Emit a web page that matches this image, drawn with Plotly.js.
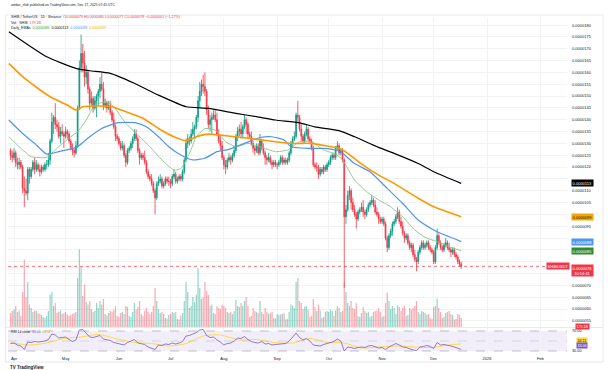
<!DOCTYPE html>
<html><head><meta charset="utf-8">
<script src="https://cdn.plot.ly/plotly-3.0.1.min.js"></script>
<style>html,body{margin:0;padding:0;background:#fff;}#chart{width:613px;height:370px;}</style>
</head><body><div id="chart"></div>
<script>
// Prices are stored in units of 1e-7 USDT (125 = 0.0000125)
const startDate = '2025-03-30';
const openP = [
127,125,
124,126,122,121,122,120,111,110,109,119,116,119,122,119,121,119,118,120,119,121,121,123,131,139,141,138,137,133,135,134,
133,135,134,131,128,127,126,129,145,162,168,164,158,160,153,147,149,145,148,150,152,155,153,146,147,145,146,143,140,137,133,
132,130,128,129,125,122,127,128,130,132,134,132,127,124,125,124,122,118,116,115,113,110,107,113,114,115,112,113,115,114,
114,113,116,117,114,115,116,115,118,123,130,132,131,134,136,137,141,148,152,155,154,152,144,138,140,141,142,140,134,131,129,
124,121,120,123,124,123,125,127,133,135,136,134,137,140,138,134,133,130,128,127,129,126,131,128,126,124,123,124,122,121,122,
121,121,122,124,122,123,122,123,126,130,132,133,142,141,136,133,131,134,136,132,131,128,121,120,120,117,119,118,120,119,
121,122,124,125,124,128,129,126,127,123,99,102,108,110,105,102,100,98,101,102,103,101,100,102,104,105,106,104,101,100,98,
97,98,96,90,86,91,93,96,97,99,101,97,95,92,90,91,88,86,87,83,81,80,84,86,88,86,87,88,86,85,
84,80,86,91,88,86,85,87,88,86,85,84,85,83,82,80,79];
const highP = [
128,127,
128,127,124,124,123,121,116,115,120,120,120,123,124,123,122,121,121,121,122,123,126,132,143,142,147,140,139,137,138,135,
137,136,135,132,130,128,131,146,165,176,172,169,163,161,154,152,150,150,151,153,158,160,156,149,148,148,148,144,143,138,134,
133,131,131,130,126,128,129,131,133,136,136,133,128,126,126,127,123,119,117,117,114,111,114,116,117,116,114,116,116,116,
115,117,119,118,116,117,117,119,124,132,134,133,136,139,138,142,150,156,157,159,160,153,146,142,143,144,144,143,136,133,131,
125,123,124,126,125,126,129,134,137,138,139,138,142,141,139,135,135,131,129,130,130,134,132,130,127,125,126,125,123,123,123,
122,123,125,125,124,124,124,127,131,133,135,143,148,142,138,134,135,138,137,133,132,129,122,122,121,120,120,121,121,122,
123,125,126,126,129,131,130,128,128,124,104,110,112,111,107,104,101,102,103,105,106,102,103,105,106,108,107,106,103,101,99,
99,99,97,91,92,94,97,98,100,103,102,99,97,93,92,92,89,88,88,85,82,85,87,89,89,88,89,89,87,86,
85,87,94,92,89,87,88,90,89,88,86,86,86,84,83,81,80];
const lowP = [
123,122,
123,120,119,119,119,109,103,108,106,113,115,118,117,118,118,116,117,118,118,119,120,121,130,134,136,135,132,130,133,128,
132,132,130,127,125,124,125,128,144,160,160,154,155,151,144,146,143,144,141,146,149,152,144,145,143,144,142,139,136,131,131,
129,127,127,124,120,121,126,127,128,131,131,126,121,123,123,121,117,115,114,112,109,100,106,112,113,111,111,112,113,112,
111,112,115,113,113,114,114,114,117,122,128,129,130,133,132,136,139,145,150,151,150,142,136,135,134,140,139,133,130,127,123,
119,117,119,122,121,122,124,126,131,133,132,132,136,134,132,132,129,126,125,126,125,125,127,125,121,121,122,121,119,120,120,
119,120,121,121,121,121,121,122,125,128,131,132,139,135,131,130,130,133,131,130,127,120,119,118,115,116,117,117,118,118,
120,121,123,123,123,127,125,125,122,69,96,101,106,102,101,99,94,97,100,101,99,98,99,101,103,104,103,100,99,96,96,
96,95,89,84,85,90,91,95,96,98,96,94,91,88,89,87,85,84,82,80,76,79,83,85,85,85,86,85,84,83,
79,79,85,87,85,84,84,86,85,84,82,83,82,81,79,78,77];
const closeP = [
125,124,
126,122,121,122,120,111,110,109,119,116,119,122,119,121,119,118,120,119,121,121,123,131,139,141,138,137,133,135,134,133,
135,134,131,128,127,126,129,145,162,168,164,158,160,153,147,149,145,148,150,152,155,153,146,147,145,146,143,140,137,133,132,
130,128,129,125,122,127,128,130,132,134,132,127,124,125,124,122,118,116,115,113,110,107,113,114,115,112,113,115,114,114,
113,116,117,114,115,116,115,118,123,130,132,131,134,136,137,141,148,152,155,154,152,144,138,140,141,142,140,134,131,129,124,
121,120,123,124,123,125,127,133,135,136,134,137,140,138,134,133,130,128,127,129,126,131,128,126,124,123,124,122,121,122,121,
121,122,124,122,123,122,123,126,130,132,133,142,141,136,133,131,134,136,132,131,128,121,120,120,117,119,118,120,119,121,
122,124,125,124,128,129,126,127,123,99,102,108,110,105,102,100,98,101,102,103,101,100,102,104,105,106,104,101,100,98,97,
98,96,90,86,91,93,96,97,99,101,97,95,92,90,91,88,86,87,83,81,80,84,86,88,86,87,88,86,85,84,
80,86,91,88,86,85,87,88,86,85,84,85,83,82,80,79,78];
// Volume in billions of SHIB
const volumeB = [
280,320,
350,420,300,330,220,700,1350,600,900,450,380,300,330,320,280,260,240,200,180,220,320,650,700,420,480,280,300,330,260,280,
300,250,220,240,260,280,300,980,1550,1200,620,850,500,450,520,360,300,320,480,380,520,450,560,260,230,280,320,300,340,420,220,
200,280,300,260,420,400,220,200,300,480,350,400,520,260,220,330,380,300,260,300,420,780,520,360,280,300,260,180,170,240,
260,300,280,300,160,150,230,280,520,900,700,380,420,600,500,650,1180,780,560,600,900,720,640,420,450,280,260,420,380,360,450,
420,380,300,280,300,260,320,540,420,400,480,420,520,600,420,200,220,380,320,300,280,520,300,260,380,300,260,280,300,180,170,
260,240,250,260,280,150,160,300,450,420,380,900,980,520,480,360,400,420,350,200,220,560,400,320,450,330,180,200,300,320,
300,350,320,220,330,420,380,300,320,890,700,480,420,520,380,360,480,220,200,280,400,320,280,300,200,220,300,320,330,380,300,
200,220,480,690,520,360,420,380,260,430,400,320,380,420,220,240,380,350,380,420,520,300,260,320,300,280,240,260,180,160,
400,420,570,380,300,180,200,280,300,320,260,240,150,160,260,240,179.1];

const ma200Dates = ['2025-03-29','2025-04-20','2025-05-07','2025-05-15','2025-05-27','2025-06-10','2025-06-24','2025-07-10','2025-07-23','2025-08-08','2025-08-20','2025-08-31','2025-09-14','2025-09-23','2025-10-07','2025-10-16','2025-10-30','2025-11-08','2025-11-22','2025-12-01','2025-12-17'];
const ma200Values = [177.2,166.6,161.7,160.7,159.6,155.4,150.4,145.5,144.8,142.7,141.3,139.9,138.7,137.0,135.4,132.8,128.3,125.8,121.5,118.0,113.1];
const ma100Dates = ['2025-03-29','2025-04-06','2025-04-15','2025-04-22','2025-05-02','2025-05-07','2025-05-11','2025-05-20','2025-05-28','2025-06-05','2025-06-15','2025-06-24','2025-07-03','2025-07-10','2025-07-16','2025-07-23','2025-07-30','2025-08-08','2025-08-20','2025-08-31','2025-09-09','2025-09-21','2025-09-30','2025-10-07','2025-10-12','2025-10-21','2025-10-30','2025-11-08','2025-11-22','2025-12-01','2025-12-17'];
const ma100Values = [163.8,158.2,153.2,149.7,146.2,144.1,145.5,145.8,145.5,143.4,140.6,136.3,132.8,131.1,132.8,133.9,133.5,132.8,131.7,130.7,130.0,130.0,128.9,127.9,125.8,120.8,116.6,113.1,106.8,103.2,99.0];
const ma50Dates = ['2025-03-29','2025-04-06','2025-04-13','2025-04-20','2025-04-27','2025-05-05','2025-05-08','2025-05-15','2025-05-22','2025-05-31','2025-06-11','2025-06-17','2025-06-24','2025-06-30','2025-07-07','2025-07-14','2025-07-21','2025-07-28','2025-08-04','2025-08-13','2025-08-22','2025-08-29','2025-09-05','2025-09-09','2025-09-19','2025-09-28','2025-10-05','2025-10-09','2025-10-16','2025-10-25','2025-11-04','2025-11-13','2025-11-22','2025-12-01','2025-12-05','2025-12-17'];
const ma50Values = [139.9,134.2,130.0,125.5,126.5,127.9,128.6,132.8,136.3,138.7,138.7,137.0,132.8,128.6,125.1,123.0,123.7,126.5,127.5,130.0,132.5,132.8,131.4,128.6,127.9,127.9,127.2,125.8,121.5,118.0,111.0,104.6,97.6,93.4,92.0,88.5];
const ma20Dates = ['2025-03-29','2025-04-04','2025-04-11','2025-04-20','2025-04-27','2025-05-04','2025-05-08','2025-05-13','2025-05-18','2025-05-25','2025-05-29','2025-06-05','2025-06-12','2025-06-19','2025-06-26','2025-07-03','2025-07-07','2025-07-12','2025-07-16','2025-07-21','2025-07-27','2025-08-02','2025-08-08','2025-08-15','2025-08-22','2025-08-31','2025-09-07','2025-09-14','2025-09-21','2025-09-28','2025-10-05','2025-10-09','2025-10-16','2025-10-23','2025-10-30','2025-11-06','2025-11-13','2025-11-20','2025-11-26','2025-12-03','2025-12-10','2025-12-17'];
const ma20Values = [132.8,128.6,124.4,124.1,128.6,132.8,134.9,139.9,146.2,147.6,145.5,138.5,133.5,128.6,123.0,118.7,119.4,125.8,132.8,136.3,135.6,130.7,128.6,130.0,128.6,126.5,127.2,130.7,130.7,127.2,125.5,123.0,114.5,109.6,106.1,103.2,99.0,93.4,90.3,88.5,86.3,84.6];

const rsiDates = ['2025-03-30','2025-04-01','2025-04-03','2025-04-05','2025-04-07','2025-04-09','2025-04-11','2025-04-13','2025-04-15','2025-04-17','2025-04-19','2025-04-21','2025-04-23','2025-04-25','2025-04-27','2025-04-29','2025-05-01','2025-05-03','2025-05-05','2025-05-07','2025-05-09','2025-05-11','2025-05-13','2025-05-15','2025-05-17','2025-05-19','2025-05-21','2025-05-23','2025-05-25','2025-05-27','2025-05-29','2025-05-31','2025-06-02','2025-06-04','2025-06-06','2025-06-08','2025-06-10','2025-06-12','2025-06-14','2025-06-16','2025-06-18','2025-06-20','2025-06-22','2025-06-24','2025-06-26','2025-06-28','2025-06-30','2025-07-02','2025-07-04','2025-07-06','2025-07-08','2025-07-10','2025-07-12','2025-07-14','2025-07-16','2025-07-18','2025-07-20','2025-07-22','2025-07-24','2025-07-26','2025-07-28','2025-07-30','2025-08-01','2025-08-03','2025-08-05','2025-08-07','2025-08-09','2025-08-11','2025-08-13','2025-08-15','2025-08-17','2025-08-19','2025-08-21','2025-08-23','2025-08-25','2025-08-27','2025-08-29','2025-08-31','2025-09-02','2025-09-04','2025-09-06','2025-09-08','2025-09-10','2025-09-12','2025-09-14','2025-09-16','2025-09-18','2025-09-20','2025-09-22','2025-09-24','2025-09-26','2025-09-28','2025-09-30','2025-10-02','2025-10-04','2025-10-06','2025-10-08','2025-10-10','2025-10-12','2025-10-14','2025-10-16','2025-10-18','2025-10-20','2025-10-22','2025-10-24','2025-10-26','2025-10-28','2025-10-30','2025-11-01','2025-11-03','2025-11-05','2025-11-07','2025-11-09','2025-11-11','2025-11-13','2025-11-15','2025-11-17','2025-11-19','2025-11-21','2025-11-23','2025-11-25','2025-11-27','2025-11-29','2025-12-01','2025-12-03','2025-12-05','2025-12-07','2025-12-09','2025-12-11','2025-12-13','2025-12-15','2025-12-17'];
const rsiValues = [45,46,42,40,33,48,47,49,48,49,50,53,64,62,56,57,58,53,49,52,72,73,66,58,57,59,61,54,53,51,47,45,44,42,47,50,53,46,45,43,38,36,33,42,41,44,43,46,44,46,49,60,61,64,67,72,73,61,57,58,52,48,42,45,46,50,56,55,59,53,49,47,46,49,44,45,42,43,44,45,45,50,57,66,57,52,55,50,42,41,40,43,45,48,49,54,50,30,38,37,35,37,38,37,40,41,38,36,37,33,38,42,45,42,38,37,34,32,31,38,39,41,39,35,47,42,43,42,40,38,35,33.06];
const rsiMaDates = ['2025-03-30','2025-04-10','2025-04-20','2025-04-30','2025-05-10','2025-05-20','2025-05-30','2025-06-10','2025-06-20','2025-06-30','2025-07-10','2025-07-20','2025-07-30','2025-08-10','2025-08-20','2025-08-30','2025-09-10','2025-09-20','2025-09-30','2025-10-10','2025-10-20','2025-10-30','2025-11-10','2025-11-20','2025-11-30','2025-12-10','2025-12-17'];
const rsiMaValues = [47,42,46,55,58,63,55,47,45,40,45,60,62,52,53,47,46,55,47,46,36,38,40,38,37,42,44.11];

const priceTicks = [55,60,65,70,75,80,85,90,95,100,105,110,115,120,125,130,135,140,145,150,155,160,165,170,175,180];
const monthTicks = ['2025-04-01','2025-05-01','2025-06-01','2025-07-01','2025-08-01','2025-09-01','2025-10-01','2025-11-01','2025-12-01','2026-01-01','2026-02-01'];
const monthLabels = ['Apr','May','Jun','Jul','Aug','Sep','Oct','Nov','Dec','2026','Feb'];

const fmt = v => (v * 1e-7).toFixed(7);
const dates = [];
{ const t0 = Date.parse(startDate + 'T00:00:00Z');
  for (let i = 0; i < closeP.length; i++) dates.push(new Date(t0 + i * 86400000).toISOString().slice(0, 10)); }

const UP = '#089981', DN = '#f23645';
const volColors = closeP.map((c, i) => c >= openP[i] ? 'rgba(8,153,129,0.42)' : 'rgba(242,54,69,0.42)');

const W = 613, H = 370;
const px = x => x / W, py = y => 1 - y / H;
const xDom = [px(8), px(567)];
const mainDom = [py(327), py(18)];
const rsiDom = [py(354), py(328)];
const yRange = [52.4, 183.0];
const FONT = 'Liberation Sans, Arial, sans-serif';
const TXT = '#131722';
const last = a => a[a.length - 1];
const lastClose = last(closeP);

// price tags on the right scale: [value, low edge, high edge] in price units
const unitPx = (mainDom[1] - mainDom[0]) * H / (yRange[1] - yRange[0]);
const tagHalf = 3.2 / unitPx;
const tagSpans = [last(ma200Values), last(ma100Values), last(ma50Values), last(ma20Values)].map(v => [v - tagHalf, v + tagHalf]);
tagSpans.push([lastClose - 11.5 / unitPx, lastClose + 1.2 + 0.3 / unitPx]);
const tickHalf = 2.3 / unitPx;
const tickText = priceTicks.map(t => tagSpans.some(s => t + tickHalf > s[0] && t - tickHalf < s[1]) ? '' : fmt(t));

const traces = [
  {type:'bar', x:dates, y:volumeB, xaxis:'x', yaxis:'y3', marker:{color:volColors, line:{width:0}}, width:86400000*0.72, hoverinfo:'skip'},
  {type:'candlestick', x:dates, open:openP, high:highP, low:lowP, close:closeP, xaxis:'x', yaxis:'y',
   increasing:{line:{color:UP, width:0.8}, fillcolor:UP}, decreasing:{line:{color:DN, width:0.8}, fillcolor:DN}, whiskerwidth:0},
  {type:'scatter', mode:'lines', x:ma20Dates, y:ma20Values, line:{color:'#81c784', width:0.9, shape:'spline', smoothing:0.5}, xaxis:'x', yaxis:'y'},
  {type:'scatter', mode:'lines', x:ma50Dates, y:ma50Values, line:{color:'#4f95ec', width:1.2, shape:'spline', smoothing:0.5}, xaxis:'x', yaxis:'y'},
  {type:'scatter', mode:'lines', x:ma100Dates, y:ma100Values, line:{color:'#ff9800', width:1.6, shape:'spline', smoothing:0.5}, xaxis:'x', yaxis:'y'},
  {type:'scatter', mode:'lines', x:ma200Dates, y:ma200Values, line:{color:'#000000', width:1.2, shape:'spline', smoothing:0.5}, xaxis:'x', yaxis:'y'},
  {type:'scatter', mode:'lines', x:rsiMaDates, y:rsiMaValues, line:{color:'#fdd835', width:0.9, shape:'spline', smoothing:0.8}, xaxis:'x2', yaxis:'y2'},
  {type:'scatter', mode:'lines', x:rsiDates, y:rsiValues, line:{color:'#7e57c2', width:0.8}, xaxis:'x2', yaxis:'y2'}
];

const xRange = ['2025-03-28 12:17', '2026-02-16 12:00'];
const grid = '#f0f2f6';

function tag(yref, y, text, bg, fg, xpx, size) {
  return {xref:'paper', yref:yref, x:px(xpx || 582), y:y, xanchor:'center', yanchor:'middle', showarrow:false,
    text:text, bgcolor:bg, borderpad:0.6, font:{family:FONT, size:size || 4, color:fg}};
}
function hdr(ypx, text, size) {
  return {xref:'paper', yref:'paper', x:px(9), y:py(ypx), xanchor:'left', yanchor:'middle', showarrow:false,
    text:text, font:{family:FONT, size:size || 3.6, color:TXT}};
}
const red = s => '<span style="color:#f23645">' + s + '</span>';

const layout = {
  width:W, height:H, margin:{l:0, r:0, t:0, b:0}, paper_bgcolor:'#ffffff', plot_bgcolor:'#ffffff',
  showlegend:false, dragmode:false,
  xaxis:{domain:xDom, anchor:'y', type:'date', range:xRange, showticklabels:false, tickvals:monthTicks,
    showgrid:true, gridcolor:grid, gridwidth:1, zeroline:false, showline:false, ticks:'', rangeslider:{visible:false}},
  xaxis2:{domain:xDom, anchor:'y2', type:'date', range:xRange, matches:'x', tickvals:monthTicks, ticktext:monthLabels,
    tickfont:{family:FONT, size:4, color:TXT}, showgrid:true, gridcolor:grid, zeroline:false, showline:false, ticks:'', ticklabelstandoff:1},
  yaxis:{domain:mainDom, anchor:'x', side:'right', range:yRange, tickvals:priceTicks, ticktext:tickText,
    tickfont:{family:FONT, size:4, color:TXT}, showgrid:true, gridcolor:grid, zeroline:false, showline:false, ticks:'', ticklabelstandoff:4},
  yaxis3:{domain:mainDom, anchor:'x', overlaying:'y', range:[0, 6180], visible:false, showgrid:false, zeroline:false},
  yaxis2:{domain:rsiDom, anchor:'x2', side:'right', range:[24, 76], tickvals:[30, 70], ticktext:['30.00', '70.00'],
    tickfont:{family:FONT, size:3.8, color:TXT}, showgrid:false, zeroline:false, showline:false, ticks:'', ticklabelstandoff:4},
  shapes:[
    {type:'rect', xref:'paper', yref:'paper', x0:px(5.5), x1:px(603), y0:py(362), y1:py(15), line:{color:'#e6e8ee', width:1}, layer:'below'},
    {type:'rect', xref:'paper', yref:'y2', x0:xDom[0], x1:xDom[1], y0:30, y1:70, fillcolor:'rgba(126,87,194,0.1)', line:{width:0}, layer:'below'},
    {type:'line', xref:'paper', yref:'y2', x0:xDom[0], x1:xDom[1], y0:70, y1:70, line:{color:'#9598a1', width:0.6, dash:'dash'}},
    {type:'line', xref:'paper', yref:'y2', x0:xDom[0], x1:xDom[1], y0:50, y1:50, line:{color:'rgba(149,152,161,0.5)', width:0.6, dash:'dash'}},
    {type:'line', xref:'paper', yref:'y2', x0:xDom[0], x1:xDom[1], y0:30, y1:30, line:{color:'#9598a1', width:0.6, dash:'dash'}},
    {type:'line', xref:'paper', yref:'paper', x0:px(5.5), x1:px(603), y0:py(327.5), y1:py(327.5), line:{color:'#e0e3eb', width:0.8}},
    {type:'line', xref:'paper', yref:'y', x0:xDom[0], x1:xDom[1], y0:lastClose, y1:lastClose, line:{color:'#f23645', width:0.7, dash:'dot'}}
  ],
  annotations:[
    hdr(5, 'ambar_shib published on TradingView.com, Dec 17, 2025 07:45 UTC', 3.4),
    hdr(17, 'SHIB / TetherUS · 1D · Binance  ' + red('O' + fmt(last(openP)) + ' H' + fmt(last(highP)) + ' L' + fmt(last(lowP)) + ' C' + fmt(lastClose) + ' −0.0000001 (−1.27%)')),
    hdr(22.5, 'Vol · SHIB  ' + red(last(volumeB).toFixed(1) + 'B')),
    hdr(28, 'Daily_EMAs  <span style="color:#2e9b3a">' + fmt(last(ma20Values)) + '</span>  <span style="color:#000">' + fmt(last(ma200Values)) +
      '</span>  <span style="color:#4f95ec">' + fmt(last(ma50Values)) + '</span>  <span style="color:#f7a600">' + fmt(last(ma100Values)) + '</span>'),
    hdr(332, 'RSI 14 close  <span style="color:#7e57c2">' + last(rsiValues).toFixed(2) + '</span>  <span style="color:#e5b800">' + last(rsiMaValues).toFixed(2) + '</span>', 3.4),
    {xref:'paper', yref:'paper', x:px(8), y:py(367.5), xanchor:'left', yanchor:'middle', showarrow:false,
      text:'<b>TV TradingView</b>', font:{family:FONT, size:4.5, color:TXT}},
    tag('y', last(ma200Values), fmt(last(ma200Values)), '#000000', '#ffffff'),
    tag('y', last(ma100Values), fmt(last(ma100Values)), '#f7a600', '#131722'),
    tag('y', last(ma50Values), fmt(last(ma50Values)), '#4f95ec', '#ffffff'),
    tag('y', last(ma20Values), fmt(last(ma20Values)), '#2e8b32', '#ffffff'),
    tag('y', lastClose, 'SHIBUSDT', '#f23645', '#ffffff', 558),
    Object.assign(tag('y', lastClose, fmt(lastClose) + '<br>10:14:41', '#f23645', '#ffffff'), {yanchor:'top', y:lastClose + 1.2}),
    tag('paper', py(326.2), last(volumeB).toFixed(1) + 'B', '#f23645', '#ffffff', 582, 3.6),
    tag('paper', py(340.3), last(rsiMaValues).toFixed(2), '#fdd835', '#131722', 582, 3.6),
    tag('paper', py(345.8), last(rsiValues).toFixed(2), '#7e57c2', '#ffffff', 582, 3.6)
  ]
};

Plotly.newPlot('chart', traces, layout, {staticPlot:true, displayModeBar:false});
</script>
</body></html>
